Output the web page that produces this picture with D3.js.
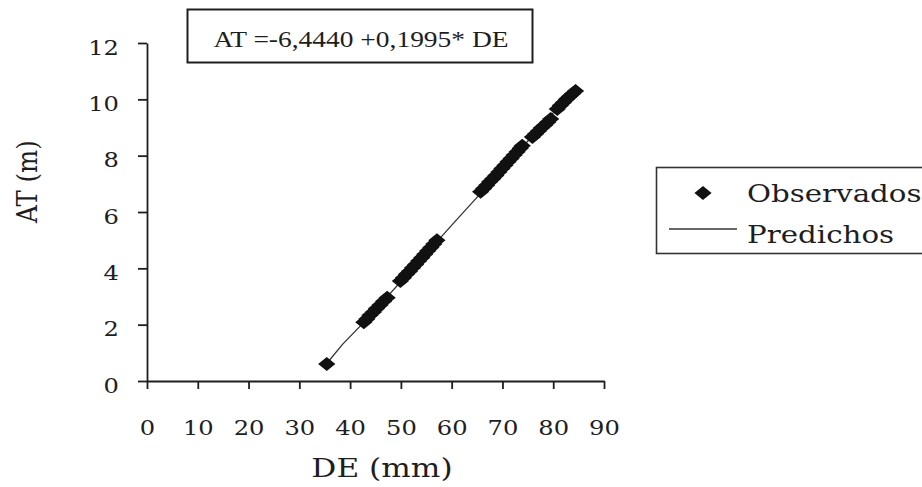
<!DOCTYPE html>
<html>
<head>
<meta charset="utf-8">
<script src="https://cdn.jsdelivr.net/npm/d3@7"></script>
<style>
	body { margin: 0; background: #fff; }
	svg { display: block; }
</style>
</head>
<body>
<div id="chart"></div>
<script>
var obsDE = [35.4,
	42.7, 43.3, 43.9, 44.6, 45.2, 45.9, 46.6, 47.3,
	49.9, 50.5, 51.1, 51.7, 52.3, 52.9, 53.5, 54.1, 54.7, 55.3, 55.9, 56.5, 57.1,
	65.7, 66.3, 66.9, 67.5, 68.1, 68.7, 69.3, 69.9, 70.5, 71.1, 71.7, 72.3, 72.9, 73.5, 73.9,
	75.9, 76.5, 77.1, 77.7, 78.3, 78.9, 79.5,
	80.8, 81.4, 82.0, 82.6, 83.2, 83.8, 84.4];
var obsAT = [0.60,
	2.09, 2.20, 2.33, 2.45, 2.57, 2.70, 2.83, 2.96,
	3.55, 3.67, 3.79, 3.90, 4.02, 4.14, 4.26, 4.38, 4.50, 4.62, 4.74, 4.86, 5.00,
	6.72, 6.83, 6.95, 7.07, 7.18, 7.30, 7.42, 7.54, 7.66, 7.78, 7.90, 8.02, 8.14, 8.26, 8.35,
	8.66, 8.77, 8.88, 8.99, 9.08, 9.19, 9.30,
	9.66, 9.78, 9.89, 10.00, 10.10, 10.20, 10.30];

// predicted line
var predDE = [35.4, 38.5, 42.7, 47.3, 49.9, 57.1, 61.0, 65.7, 73.9, 75.9, 79.5, 80.8, 84.4];
var predAT = [0.62, 1.30, 2.08, 2.99, 3.51, 4.95, 5.73, 6.66, 8.30, 8.70, 9.42, 9.67, 10.39];

var xTicks = [0, 10, 20, 30, 40, 50, 60, 70, 80, 90];
var yTicks = [0, 2, 4, 6, 8, 10, 12];
var legendLabels = ["Observados", "Predichos"];
var equation = "AT =-6,4440 +0,1995* DE";
var xTitle = "DE (mm)";
var yTitle = "AT (m)";

var w = 922;
var h = 487;
var ink = "#1e1e1e";
var serif = "'DejaVu Serif', serif";

// the scan is wider than tall, so stretch text sideways
function stretch(sel, k) {
	sel.each(function() {
		var len = this.getComputedTextLength();
		d3.select(this)
			.attr("textLength", len * k)
			.attr("lengthAdjust", "spacingAndGlyphs");
	});
}

var diamond = "M0,-7L8.6,0L0,7L-8.6,0Z";

var svg = d3.select("#chart")
			.append("svg")
			.attr("width", w)
			.attr("height", h);

var x = d3.scaleLinear()
		  .domain([0, 90])
		  .range([147, 604]);
var y = d3.scaleLinear()
		  .domain([0, 12])
		  .range([381, 43]);

// axes
var xAxis = svg.append("g")
			   .attr("transform", "translate(0," + y(0) + ")")
			   .call(d3.axisBottom(x)
					   .tickValues(xTicks)
					   .tickSize(8)
					   .tickSizeOuter(0)
					   .tickPadding(31));
var yAxis = svg.append("g")
			   .attr("transform", "translate(" + x(0) + ",0)")
			   .call(d3.axisLeft(y)
					   .tickValues(yTicks)
					   .tickSize(9)
					   .tickSizeOuter(0)
					   .tickPadding(19));

svg.selectAll(".domain, .tick line")
	.attr("stroke", ink)
	.attr("stroke-width", 1.8);

svg.selectAll(".tick text")
	.attr("fill", ink)
	.style("font-family", serif)
	.style("font-size", "20.5px");
yAxis.selectAll(".tick text").attr("dy", "0.55em");
stretch(svg.selectAll(".tick text"), 1.18);

// predicted line
var line = d3.line()
			 .x(d => x(d[0]))
			 .y(d => y(d[1]));
svg.append("path")
	.datum(d3.zip(predDE, predAT))
	.attr("d", line)
	.attr("fill", "none")
	.attr("stroke", "#333")
	.attr("stroke-width", 1.3);

// observed points
svg.selectAll("path.obs")
	.data(d3.zip(obsDE, obsAT))
	.enter()
	.append("path")
	.attr("class", "obs")
	.attr("d", diamond)
	.attr("fill", "#111")
	.attr("transform", d => "translate(" + x(d[0]) + "," + y(d[1]) + ")");

// equation box
svg.append("rect")
	.attr("x", 187.5)
	.attr("y", 9.5)
	.attr("width", 345)
	.attr("height", 53)
	.attr("fill", "#fff")
	.attr("stroke", ink)
	.attr("stroke-width", 2);
var eq = svg.append("text")
			.attr("x", 361)
			.attr("y", 47)
			.attr("text-anchor", "middle")
			.attr("fill", ink)
			.style("font-family", "'Liberation Serif', serif")
			.style("font-size", "22.5px")
			.text(equation);
stretch(eq, 1.22);

// axis titles
var xt = svg.append("text")
			.attr("x", 382)
			.attr("y", 477)
			.attr("text-anchor", "middle")
			.attr("fill", ink)
			.style("font-family", serif)
			.style("font-size", "26px")
			.text(xTitle);
stretch(xt, 1.2);

svg.append("text")
	.attr("transform", "translate(37,181.5) scale(1.12,1) rotate(-90)")
	.attr("text-anchor", "middle")
	.attr("fill", ink)
	.style("font-family", serif)
	.style("font-size", "24.5px")
	.text(yTitle);

// legend
var lg = svg.append("g");
lg.append("rect")
	.attr("x", 656.5)
	.attr("y", 167.5)
	.attr("width", 300)
	.attr("height", 86)
	.attr("fill", "#fff")
	.attr("stroke", "#333")
	.attr("stroke-width", 1.6);
lg.append("path")
	.attr("d", diamond)
	.attr("fill", "#111")
	.attr("transform", "translate(703,193)");
lg.append("line")
	.attr("x1", 669)
	.attr("x2", 737)
	.attr("y1", 229)
	.attr("y2", 229)
	.attr("stroke", "#333")
	.attr("stroke-width", 1.3);
var lt = lg.selectAll("text")
		   .data(legendLabels)
		   .enter()
		   .append("text")
		   .attr("x", 747)
		   .attr("y", (d, i) => i == 0 ? 202 : 243)
		   .attr("fill", ink)
		   .style("font-family", serif)
		   .style("font-size", "24px")
		   .text(d => d);
stretch(lt, 1.22);
</script>
</body>
</html>
